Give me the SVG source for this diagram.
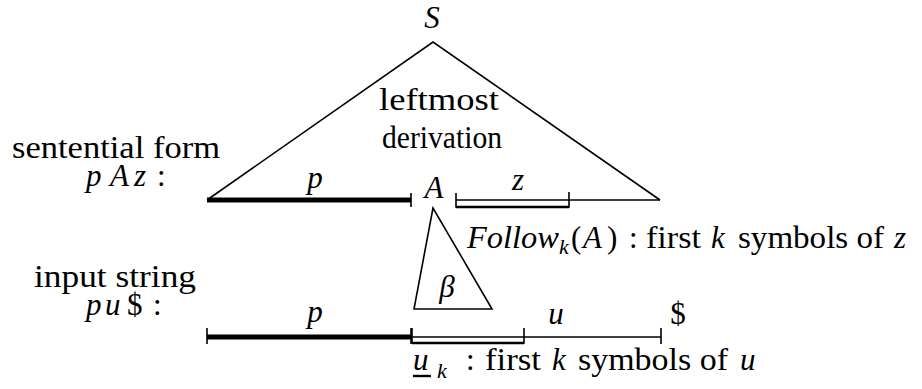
<svg xmlns="http://www.w3.org/2000/svg" width="922" height="389" viewBox="0 0 922 389">
<style>
text{font-size:31px;fill:#000}
.i{font-style:italic}
.s{font-size:22px}
.c{text-anchor:middle}
.thin{stroke:#000;stroke-width:1.6;fill:none}
.thick{stroke:#000;stroke-width:5;fill:none}
.mid{stroke:#000;stroke-width:2.4;fill:none}
</style>
<rect width="922" height="389" fill="#fff"/>
<g id="derivation-tree">
<polyline class="thin" points="207,200 433,42 660,200"/>
<text font-family="Liberation Serif" class="i c" x="432" y="28">S</text>
<text font-family="Liberation Serif" class="c" x="439" y="110" textLength="120" lengthAdjust="spacingAndGlyphs">leftmost</text>
<text font-family="Liberation Serif" class="c" x="442" y="148" textLength="120" lengthAdjust="spacingAndGlyphs">derivation</text>
</g>
<g id="sentential-label">
<text font-family="Liberation Serif" x="12" y="158" textLength="208" lengthAdjust="spacingAndGlyphs">sentential form</text>
<text font-family="Liberation Serif" class="i" x="86" y="186">p</text>
<text font-family="Liberation Serif" class="i" x="110" y="186">A</text>
<text font-family="Liberation Serif" class="i" x="134" y="186">z</text>
<text font-family="Liberation Serif" x="157" y="186">:</text>
</g>
<g id="input-label">
<text font-family="Liberation Serif" x="34" y="287" textLength="162" lengthAdjust="spacingAndGlyphs">input string</text>
<text font-family="Liberation Serif" class="i" x="86" y="315">p</text>
<text font-family="Liberation Serif" class="i" x="105" y="315">u</text>
<text font-family="Liberation Serif" x="127" y="315">$</text>
<text font-family="Liberation Serif" x="153" y="315">:</text>
</g>
<g id="sentential-form">
<line class="thick" x1="207" y1="200" x2="411" y2="200"/>
<line class="thin" x1="411" y1="193" x2="411" y2="207"/>
<text font-family="Liberation Serif" class="i c" x="315" y="188">p</text>
<text font-family="Liberation Serif" class="i c" x="434" y="198">A</text>
<line class="thin" x1="456" y1="200" x2="660" y2="200"/>
<polyline class="thin" points="456,193 456,207 569,207 569,192"/>
<line class="mid" x1="456" y1="207" x2="569" y2="207"/>
<text font-family="Liberation Serif" class="i c" x="518" y="190">z</text>
</g>
<g id="follow-label">
<text font-family="Liberation Serif" class="i" x="467" y="248" textLength="92" lengthAdjust="spacingAndGlyphs">Follow</text>
<text font-family="Liberation Serif" class="i s" x="559" y="254">k</text>
<text font-family="Liberation Serif" x="571" y="248">(</text>
<text font-family="Liberation Serif" class="i" x="583" y="248">A</text>
<text font-family="Liberation Serif" x="607" y="248">)</text>
<text font-family="Liberation Serif" x="629" y="248">:</text>
<text font-family="Liberation Serif" x="646" y="248" textLength="55" lengthAdjust="spacingAndGlyphs">first</text>
<text font-family="Liberation Serif" class="i" x="711" y="248">k</text>
<text font-family="Liberation Serif" x="738" y="248" textLength="146" lengthAdjust="spacingAndGlyphs">symbols of</text>
<text font-family="Liberation Serif" class="i" x="894" y="248">z</text>
</g>
<g id="beta-subtree">
<polygon class="thin" points="433,208 414,309 492,309"/>
<text font-family="Liberation Serif" class="i c" x="447" y="297" fill="#333">β</text>
</g>
<g id="input-string">
<line class="thin" x1="207" y1="328" x2="207" y2="344"/>
<line class="thick" x1="207" y1="337" x2="411" y2="337"/>
<line class="thin" x1="411" y1="328" x2="411" y2="344"/>
<text font-family="Liberation Serif" class="i c" x="315" y="322">p</text>
<line class="thin" x1="412" y1="337" x2="661" y2="337"/>
<polyline class="thin" points="412,328 412,343 524,343 524,328"/>
<line class="mid" x1="412" y1="343" x2="524" y2="343"/>
<line class="thin" x1="661" y1="328" x2="661" y2="344"/>
<text font-family="Liberation Serif" class="i c" x="556" y="324">u</text>
<text font-family="Liberation Serif" class="c" x="678" y="324">$</text>
</g>
<g id="lookahead-label">
<text font-family="Liberation Serif" class="i" x="413" y="370">u</text>
<line class="mid" x1="413" y1="376" x2="431" y2="376"/>
<text font-family="Liberation Serif" class="i s" x="437" y="378">k</text>
<text font-family="Liberation Serif" x="466" y="370">:</text>
<text font-family="Liberation Serif" x="485" y="370" textLength="56" lengthAdjust="spacingAndGlyphs">first</text>
<text font-family="Liberation Serif" class="i" x="552" y="370">k</text>
<text font-family="Liberation Serif" x="578" y="370" textLength="150" lengthAdjust="spacingAndGlyphs">symbols of</text>
<text font-family="Liberation Serif" class="i" x="740" y="370">u</text>
</g>
</svg>
